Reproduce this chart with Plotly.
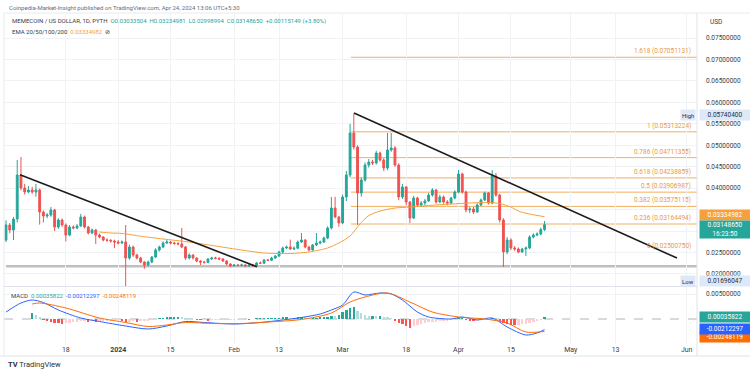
import plotly.graph_objects as go
import pandas as pd

# ---------------- data ----------------
DATES = pd.date_range("2023-12-02", periods=145, freq="D")

OPEN = [0.02791, 0.03141, 0.03024, 0.03281, 0.04307, 0.04003, 0.03910, 0.03957, 0.03910, 0.03957,
        0.03444, 0.03351, 0.03374, 0.03491, 0.03094, 0.03258, 0.03141, 0.02908, 0.03094, 0.03071,
        0.03118, 0.03328, 0.03094, 0.02955, 0.03024, 0.02908, 0.02861, 0.02791, 0.02785, 0.02768,
        0.02745, 0.02721, 0.02745, 0.02372, 0.02628, 0.02442, 0.02372, 0.02278, 0.02208, 0.02278,
        0.02395, 0.02558, 0.02628, 0.02721, 0.02745, 0.02721, 0.02710, 0.02698, 0.02628, 0.02372,
        0.02442, 0.02372, 0.02302, 0.02278, 0.02270, 0.02348, 0.02372, 0.02365, 0.02348, 0.02302,
        0.02232, 0.02185, 0.02208, 0.02200, 0.02210, 0.02185, 0.02208, 0.02190, 0.02255, 0.02250,
        0.02325, 0.02320, 0.02372, 0.02418, 0.02512, 0.02605, 0.02628, 0.02582, 0.02600, 0.02745,
        0.02791, 0.02628, 0.02558, 0.02675, 0.02721, 0.02745, 0.02838, 0.03071, 0.03537, 0.03328,
        0.03188, 0.03794, 0.04307, 0.05286, 0.04959, 0.03887, 0.04190, 0.04540, 0.04610, 0.04587,
        0.04819, 0.04656, 0.04470, 0.04889, 0.04936, 0.04540, 0.03794, 0.04027, 0.03677, 0.03304,
        0.03770, 0.03607, 0.03654, 0.03700, 0.03840, 0.03957, 0.03677, 0.03794, 0.03677, 0.03654,
        0.03770, 0.03910, 0.04330, 0.03910, 0.03491, 0.03514, 0.03444, 0.03607, 0.03724, 0.03887,
        0.03654, 0.04283, 0.03840, 0.03258, 0.02512, 0.02791, 0.02605, 0.02582, 0.02512, 0.02582,
        0.02605, 0.02861, 0.02908, 0.02931, 0.03033504]

HIGH = [0.03250, 0.03190, 0.03330, 0.04656, 0.04726, 0.04100, 0.04050, 0.04030, 0.04100, 0.03990,
        0.03480, 0.03420, 0.03560, 0.03520, 0.03300, 0.03290, 0.03180, 0.03140, 0.03130, 0.03160,
        0.03400, 0.03360, 0.03120, 0.03060, 0.03050, 0.02940, 0.02880, 0.02830, 0.02810, 0.02800,
        0.02790, 0.02780, 0.03141, 0.02680, 0.02660, 0.02470, 0.02400, 0.02300, 0.02310, 0.02420,
        0.02600, 0.02660, 0.02760, 0.02790, 0.02770, 0.02750, 0.02740, 0.03071, 0.02650, 0.02480,
        0.02460, 0.02390, 0.02320, 0.02300, 0.02370, 0.02400, 0.02400, 0.02390, 0.02370, 0.02320,
        0.02250, 0.02230, 0.02230, 0.02240, 0.02230, 0.02230, 0.02230, 0.02280, 0.02290, 0.02350,
        0.02350, 0.02400, 0.02440, 0.02540, 0.02640, 0.02660, 0.02800, 0.02640, 0.02780, 0.02955,
        0.02810, 0.02650, 0.02700, 0.02955, 0.02780, 0.02870, 0.03110, 0.03794, 0.03800, 0.03350,
        0.03850, 0.04400, 0.05500, 0.05740, 0.05000, 0.04250, 0.04600, 0.04680, 0.04660, 0.04870,
        0.04850, 0.04700, 0.05286, 0.05286, 0.04980, 0.04580, 0.04100, 0.04050, 0.03700, 0.03820,
        0.03800, 0.03700, 0.03750, 0.03890, 0.04000, 0.03980, 0.03850, 0.03830, 0.03720, 0.03800,
        0.03950, 0.04423, 0.04360, 0.03940, 0.03560, 0.03560, 0.03650, 0.03760, 0.03920, 0.03910,
        0.04423, 0.04350, 0.03870, 0.03300, 0.02861, 0.02830, 0.02650, 0.02620, 0.02610, 0.02640,
        0.02900, 0.02950, 0.02970, 0.03080, 0.03234981]

LOW = [0.02745, 0.02950, 0.02791, 0.03200, 0.03950, 0.03850, 0.03880, 0.03870, 0.03800, 0.03150,
       0.03200, 0.03300, 0.03330, 0.03000, 0.03050, 0.03100, 0.02760, 0.02880, 0.03040, 0.03040,
       0.03100, 0.03060, 0.02920, 0.02930, 0.02700, 0.02830, 0.02760, 0.02750, 0.02730, 0.02600,
       0.02690, 0.02700, 0.01696, 0.02330, 0.02400, 0.02340, 0.02250, 0.02120, 0.02180, 0.02250,
       0.02370, 0.02520, 0.02600, 0.02700, 0.02690, 0.02680, 0.02670, 0.02600, 0.02330, 0.02340,
       0.02340, 0.02270, 0.02210, 0.02240, 0.02250, 0.02330, 0.02340, 0.02320, 0.02280, 0.02200,
       0.02160, 0.02170, 0.02180, 0.02180, 0.02165, 0.02170, 0.02170, 0.02170, 0.02230, 0.02240,
       0.02300, 0.02300, 0.02350, 0.02400, 0.02490, 0.02580, 0.02560, 0.02560, 0.02580, 0.02720,
       0.02600, 0.02530, 0.02540, 0.02650, 0.02690, 0.02720, 0.02810, 0.03040, 0.03300, 0.03100,
       0.03160, 0.03700, 0.04250, 0.04900, 0.03141, 0.03800, 0.04150, 0.04480, 0.04540, 0.04550,
       0.04620, 0.04400, 0.04420, 0.04850, 0.04500, 0.03720, 0.03750, 0.03600, 0.03190, 0.03280,
       0.03560, 0.03560, 0.03600, 0.03680, 0.03800, 0.03640, 0.03650, 0.03640, 0.03600, 0.03620,
       0.03740, 0.03880, 0.03870, 0.03440, 0.03420, 0.03400, 0.03420, 0.03580, 0.03700, 0.03620,
       0.03620, 0.03800, 0.03200, 0.02162, 0.02460, 0.02560, 0.02540, 0.02480, 0.02490, 0.02420,
       0.02580, 0.02830, 0.02880, 0.02900, 0.02998994]

CLOSE = [0.03141, 0.03024, 0.03281, 0.04307, 0.04003, 0.03910, 0.03957, 0.03910, 0.03957, 0.03444,
         0.03351, 0.03374, 0.03491, 0.03094, 0.03258, 0.03141, 0.02908, 0.03094, 0.03071, 0.03118,
         0.03328, 0.03094, 0.02955, 0.03024, 0.02908, 0.02861, 0.02791, 0.02785, 0.02768, 0.02745,
         0.02721, 0.02745, 0.02372, 0.02628, 0.02442, 0.02372, 0.02278, 0.02208, 0.02278, 0.02395,
         0.02558, 0.02628, 0.02721, 0.02745, 0.02721, 0.02710, 0.02698, 0.02628, 0.02372, 0.02442,
         0.02372, 0.02302, 0.02278, 0.02270, 0.02348, 0.02372, 0.02365, 0.02348, 0.02302, 0.02232,
         0.02185, 0.02208, 0.02200, 0.02210, 0.02185, 0.02208, 0.02190, 0.02255, 0.02250, 0.02325,
         0.02320, 0.02372, 0.02418, 0.02512, 0.02605, 0.02628, 0.02582, 0.02600, 0.02745, 0.02791,
         0.02628, 0.02558, 0.02675, 0.02721, 0.02745, 0.02838, 0.03071, 0.03537, 0.03328, 0.03188,
         0.03794, 0.04307, 0.05286, 0.04959, 0.03887, 0.04190, 0.04540, 0.04610, 0.04587, 0.04819,
         0.04656, 0.04470, 0.04889, 0.04936, 0.04540, 0.03794, 0.04027, 0.03677, 0.03304, 0.03770,
         0.03607, 0.03654, 0.03700, 0.03840, 0.03957, 0.03677, 0.03794, 0.03677, 0.03654, 0.03770,
         0.03910, 0.04330, 0.03910, 0.03491, 0.03514, 0.03444, 0.03607, 0.03724, 0.03887, 0.03654,
         0.04283, 0.03840, 0.03258, 0.02512, 0.02791, 0.02605, 0.02582, 0.02512, 0.02582, 0.02605,
         0.02861, 0.02908, 0.02931, 0.03034, 0.03148650]

EMA_DATES = ["2023-12-27", "2023-12-30", "2024-01-02", "2024-01-07", "2024-01-13", "2024-01-20",
             "2024-01-27", "2024-02-03", "2024-02-09", "2024-02-16", "2024-02-21", "2024-02-26",
             "2024-02-29", "2024-03-03", "2024-03-06", "2024-03-08", "2024-03-11", "2024-03-15",
             "2024-03-19", "2024-03-24", "2024-03-30", "2024-04-04", "2024-04-09", "2024-04-12",
             "2024-04-15", "2024-04-17", "2024-04-20", "2024-04-24"]
EMA_VALS = [0.02978, 0.02955, 0.02945, 0.02880, 0.02815, 0.02745, 0.02651, 0.02558, 0.02488,
            0.02477, 0.02512, 0.02605, 0.02721, 0.02885, 0.03200, 0.03360, 0.03467, 0.03537,
            0.03560, 0.03596, 0.03630, 0.03654, 0.03665, 0.03642, 0.03560, 0.03467, 0.03397,
            0.03334982]

HIST = [None, None, None, None, None, None, None,
        0.0012, 0.0009, 0.0005, -0.0002, -0.0004, -0.0005, -0.0007, -0.0008, -0.0009, -0.0008,
        -0.0007, -0.0006, -0.0005, -0.0004, -0.0004, -0.0005, -0.0004, -0.0005, -0.0004, -0.0003,
        -0.0003, -0.0003, -0.0002, -0.0002, -0.0003, -0.0006, -0.0005, -0.0004, -0.0005, -0.0004,
        -0.0004, -0.0003, -0.0002, -0.0001, 0.0001, 0.0002, 0.0003, 0.0004, 0.0004, 0.0004,
        0.0003, 0.0002, 0.0001, 0.0000, -0.0001, -0.0002, -0.0002, -0.0003, -0.0002, -0.0002,
        -0.0002, -0.0001, -0.0001, -0.0001, -0.0001, -0.0001, -0.0001, 0.0000, -0.0001, 0.0000,
        0.0001, 0.0001, 0.0001, 0.0002, 0.0002, 0.0002, 0.0002, 0.0003, 0.0003, 0.0002,
        0.0002, 0.0003, 0.0004, 0.0003, 0.0002, 0.0002, 0.0002, 0.0003, 0.0004, 0.0005,
        0.0007, 0.0006, 0.0008, 0.0014, 0.0018, 0.0022, 0.0025, 0.0016, 0.0012, 0.0008,
        0.0006, 0.0007, 0.0006, 0.0006, 0.0004, 0.0003, 0.0002, -0.0003, -0.0007, -0.0010,
        -0.0014, -0.0018, -0.0013, -0.0012, -0.0010, -0.0008, -0.0006, -0.0005, -0.0005, -0.0004,
        -0.0003, -0.0003, -0.0002, -0.0001, 0.0002, 0.0002, -0.0002, -0.0003, -0.0004, -0.0003,
        -0.0002, -0.0001, -0.0001, 0.0002, 0.0001, -0.0003, -0.0007, -0.0009, -0.0011, -0.0012,
        -0.0012, -0.0010, -0.0009, -0.0007, -0.0005, -0.0003, -0.0001, 0.00035822]

MACD_DATES = ["2023-12-02", "2023-12-06", "2023-12-09", "2023-12-12", "2023-12-16", "2023-12-22",
              "2023-12-27", "2024-01-03", "2024-01-09", "2024-01-14", "2024-01-19", "2024-01-24",
              "2024-02-01", "2024-02-08", "2024-02-14", "2024-02-19", "2024-02-24", "2024-02-27",
              "2024-03-01", "2024-03-04", "2024-03-07", "2024-03-11", "2024-03-14", "2024-03-17",
              "2024-03-21", "2024-03-24", "2024-03-30", "2024-04-02", "2024-04-06", "2024-04-10",
              "2024-04-14", "2024-04-19", "2024-04-22", "2024-04-24"]
MACD_VALS = [0.0014, 0.0032, 0.0038, 0.0033, 0.0018, 0.0002, -0.0005, -0.0014, -0.0020, -0.0014,
             -0.0005, -0.0007, -0.0010, -0.0007, -0.0002, 0.0003, 0.0010, 0.0018, 0.0028, 0.0054,
             0.0048, 0.0052, 0.0050, 0.0038, 0.0014, 0.0004, 0.0000, 0.0004, -0.0002, 0.0002,
             -0.0016, -0.0032, -0.0028, -0.00212297]

SIGNAL_DATES = ["2023-12-09", "2023-12-11", "2023-12-18", "2023-12-27", "2024-01-03", "2024-01-09",
                "2024-01-14", "2024-01-19", "2024-01-26", "2024-02-03", "2024-02-10", "2024-02-19",
                "2024-02-27", "2024-03-03", "2024-03-07", "2024-03-13", "2024-03-19", "2024-03-25",
                "2024-04-01", "2024-04-08", "2024-04-14", "2024-04-19", "2024-04-24"]
SIGNAL_VALS = [0.0030, 0.0032, 0.0022, 0.0002, -0.0007, -0.0015, -0.0012, -0.0007, -0.0009,
               -0.0009, -0.0006, -0.0001, 0.0012, 0.0034, 0.0044, 0.0052, 0.0034, 0.0014,
               0.0004, 0.0000, -0.0008, -0.0026, -0.00248119]

FIB_RATIOS = ["1.618", "1", "0.786", "0.618", "0.5", "0.382", "0.236", "0"]
FIB_LEVELS = [0.07051131, 0.05313224, 0.04711355, 0.04238859, 0.03906987, 0.03575115,
              0.03164494, 0.02500750]
FIB_START = "2024-03-03 05:00"

TREND1 = [("2023-12-05 18:00", 0.0431), ("2024-02-07 02:00", 0.0217)]
TREND2 = [("2024-03-04 01:00", 0.0575), ("2024-05-29 10:00", 0.0237)]
SUPPORT = 0.0218
SUPPORT_START = "2023-12-02"

PRICE_TICKS = [0.020, 0.025, 0.030, 0.035, 0.040, 0.045, 0.050, 0.055, 0.060, 0.065, 0.070, 0.075]
# labels of 0.030 / 0.035 are hidden behind the last-price tags in the original
PRICE_TICK_TEXT = ["0.02000000", "0.02500000", "", "", "0.04000000", "0.04500000", "0.05000000",
                   "0.05500000", "0.06000000", "0.06500000", "0.07000000", "0.07500000"]
TICK_DATES = ["2023-12-18", "2024-01-01", "2024-01-15", "2024-02-01", "2024-02-13", "2024-03-01",
              "2024-03-18", "2024-04-01", "2024-04-15", "2024-05-01", "2024-05-13", "2024-06-01"]
TICK_TEXT = ["18", "<b>2024</b>", "15", "Feb", "13", "Mar", "18", "Apr", "15", "May", "13", "Jun"]

HIGH_VAL = 0.05740400
LOW_VAL = 0.01696047
EMA_LAST = 0.03334982
CLOSE_LAST = 0.03148650
HIST_LAST, MACD_LAST, SIGNAL_LAST = 0.00035822, -0.00212297, -0.00248119

X_RANGE = ["2023-12-01 11:10", "2024-06-03 18:14"]

# ---------------- style ----------------
UP, DN = "#26a69a", "#ef5350"
EMA_C = "#f5a03a"
FIB_C = "rgba(240,160,70,0.85)"
FIB_T = "#e89a45"
GRID = "#f0f2f6"
FONT = "Roboto"
W, H = 750, 373
ML, MR, MT, MB = 4, 53, 14, 29
PW, PH = W - ML - MR, H - MT - MB


def px(x):
    return (x - ML) / PW


def py(y):
    return (H - MB - y) / PH


fig = go.Figure()

fig.add_trace(go.Candlestick(
    x=DATES, open=OPEN, high=HIGH, low=LOW, close=CLOSE,
    increasing=dict(line=dict(color=UP, width=1), fillcolor=UP),
    decreasing=dict(line=dict(color=DN, width=1), fillcolor=DN),
    whiskerwidth=0, xaxis="x", yaxis="y", showlegend=False, hoverinfo="skip"))

fig.add_trace(go.Scatter(x=EMA_DATES, y=EMA_VALS, mode="lines",
                         line=dict(color=EMA_C, width=1, shape="spline", smoothing=0.7),
                         xaxis="x", yaxis="y", showlegend=False, hoverinfo="skip"))

hist_colors = []
prev = None
for h in HIST:
    if h is None:
        hist_colors.append("rgba(0,0,0,0)")
    elif h >= 0:
        hist_colors.append("#26a69a" if (prev is None or h >= prev) else "#b2dfdb")
    else:
        hist_colors.append("#ff5252" if (prev is None or h < prev) else "#ffcdd2")
    if h is not None:
        prev = h

fig.add_trace(go.Bar(x=DATES, y=HIST, marker=dict(color=hist_colors, line=dict(width=0)),
                     width=0.62 * 86400000, xaxis="x2", yaxis="y2", showlegend=False,
                     hoverinfo="skip"))
fig.add_trace(go.Scatter(x=MACD_DATES, y=MACD_VALS, mode="lines",
                         line=dict(color="#2962ff", width=1, shape="spline", smoothing=0.8),
                         xaxis="x2", yaxis="y2", showlegend=False, hoverinfo="skip"))
fig.add_trace(go.Scatter(x=SIGNAL_DATES, y=SIGNAL_VALS, mode="lines",
                         line=dict(color="#ff6d00", width=1, shape="spline", smoothing=0.8),
                         xaxis="x2", yaxis="y2", showlegend=False, hoverinfo="skip"))

shapes = []
for lv in FIB_LEVELS:
    shapes.append(dict(type="line", xref="x", yref="y", x0=FIB_START, x1=X_RANGE[1],
                       y0=lv, y1=lv, line=dict(color=FIB_C, width=1), layer="below"))
shapes.append(dict(type="line", xref="x", yref="y", x0=SUPPORT_START, x1=X_RANGE[1],
                   y0=SUPPORT, y1=SUPPORT, line=dict(color="rgba(175,175,175,0.8)", width=2.5),
                   layer="below"))
for tl in (TREND1, TREND2):
    shapes.append(dict(type="line", xref="x", yref="y", x0=tl[0][0], y0=tl[0][1],
                       x1=tl[1][0], y1=tl[1][1], line=dict(color="#1c1c1c", width=1.6)))
shapes.append(dict(type="line", xref="x2", yref="y2", x0=X_RANGE[0], x1=X_RANGE[1], y0=0, y1=0,
                   line=dict(color="#b0b4bc", width=1, dash="dash"), layer="below"))
shapes.append(dict(type="line", xref="paper", yref="paper", x0=0, x1=1, y0=py(286.5), y1=py(286.5),
                   line=dict(color="#e0e3eb", width=1)))
shapes.append(dict(type="line", xref="paper", yref="paper", x0=1, x1=1, y0=py(356), y1=py(13),
                   line=dict(color="#e0e3eb", width=1)))
shapes.append(dict(type="line", xref="paper", yref="paper", x0=px(0), x1=px(W), y0=py(356),
                   y1=py(356), line=dict(color="#e0e3eb", width=1)))
shapes.append(dict(type="line", xref="paper", yref="paper", x0=px(4), x1=px(W), y0=py(13),
                   y1=py(13), line=dict(color="#e8eaef", width=1)))
shapes.append(dict(type="line", xref="paper", yref="paper", x0=0, x1=0, y0=py(356),
                   y1=py(13), line=dict(color="#e8eaef", width=1)))

ann = []
for r, lv in zip(FIB_RATIOS, FIB_LEVELS):
    ann.append(dict(xref="paper", yref="y", x=1, y=lv, xanchor="right", yanchor="bottom",
                    xshift=-4, yshift=0, showarrow=False,
                    text=f"{r} ({lv:.8f})", font=dict(family=FONT, size=6.5, color=FIB_T)))

ann.append(dict(xref="paper", yref="paper", x=px(7), y=py(7.5), xanchor="left", yanchor="middle",
                showarrow=False,
                text="Coinpedia-Market-Insight published on TradingView.com, Apr 24, 2024 13:06 UTC+5:30",
                font=dict(family=FONT, size=6, color="#6a6d78")))
t = "#26a69a"
ann.append(dict(xref="paper", yref="paper", x=px(10), y=py(21), xanchor="left", yanchor="middle",
                showarrow=False,
                text=("MEMECOIN / US DOLLAR, 1D, PYTH  "
                      f"<span style='color:{t}'>O{OPEN[-1]:.8f}  H{HIGH[-1]:.8f}  L{LOW[-1]:.8f}  "
                      f"C{CLOSE[-1]:.8f}  +0.00115149 (+3.80%)</span>"),
                font=dict(family=FONT, size=6, color="#3a3d46")))
ann.append(dict(xref="paper", yref="paper", x=px(10), y=py(31), xanchor="left", yanchor="middle",
                showarrow=False,
                text=f"EMA 20/50/100/200  <span style='color:{EMA_C}'>{EMA_LAST:.8f}</span>  ⊘",
                font=dict(family=FONT, size=6, color="#3a3d46")))
ann.append(dict(xref="paper", yref="paper", x=px(9), y=py(295), xanchor="left", yanchor="middle",
                showarrow=False,
                text=(f"MACD  <span style='color:#26a69a'>{HIST_LAST:.8f}</span>  "
                      f"<span style='color:#2962ff'>{MACD_LAST:.8f}</span>  "
                      f"<span style='color:#ff6d00'>{SIGNAL_LAST:.8f}</span>"),
                font=dict(family=FONT, size=6, color="#3a3d46")))
ann.append(dict(xref="paper", yref="paper", x=px(708), y=py(22), xanchor="left", yanchor="middle",
                showarrow=False, text="USD", font=dict(family=FONT, size=6.5, color="#3a3d46")))
ann.append(dict(xref="paper", yref="paper", x=px(6), y=py(364), xanchor="left", yanchor="middle",
                showarrow=False, text="<b>TV</b> TradingView",
                font=dict(family=FONT, size=7.5, color="#2a2e39")))


def axis_tag(ypix, text, bg, fg, h=8):
    ann.append(dict(xref="paper", yref="paper", x=px(699), y=py(ypix), xanchor="left",
                    yanchor="middle", showarrow=False, text=text, bgcolor=bg, width=48, height=h,
                    align="center", borderpad=1, font=dict(family=FONT, size=6.5, color=fg)))


def left_tag(ypix, text):
    ann.append(dict(xref="paper", yref="paper", x=1, y=py(ypix), xanchor="right", xshift=-1,
                    yanchor="middle", showarrow=False, text=text, bgcolor="#dde8f9", height=8,
                    borderpad=1, font=dict(family=FONT, size=6, color="#2a2e39")))


axis_tag(114.5, f"{HIGH_VAL:.8f}", "#dde8f9", "#2a2e39")
left_tag(114.5, "High")
axis_tag(281, f"{LOW_VAL:.8f}", "#dde8f9", "#2a2e39")
left_tag(281, "Low")
axis_tag(215, f"{EMA_LAST:.8f}", EMA_C, "white")
axis_tag(229.5, f"{CLOSE_LAST:.8f}<br>16:23:50", "#26a69a", "white", h=15)
axis_tag(336.5, f"{SIGNAL_LAST:.8f}", "#ff6d00", "white")
axis_tag(328.5, f"{MACD_LAST:.8f}", "#2962ff", "white")
axis_tag(316.5, f"{HIST_LAST:.8f}", "#26a69a", "white")

fig.update_layout(
    width=W, height=H, margin=dict(l=ML, r=MR, t=MT, b=MB),
    paper_bgcolor="white", plot_bgcolor="white", showlegend=False, bargap=0,
    font=dict(family=FONT, size=7, color="#3a3d46"),
    xaxis=dict(domain=[0, 1], anchor="y", type="date", range=X_RANGE, showticklabels=False,
               tickvals=TICK_DATES, showgrid=True, gridcolor=GRID, zeroline=False,
               rangeslider=dict(visible=False), showline=False, ticks=""),
    xaxis2=dict(domain=[0, 1], anchor="y2", type="date", range=X_RANGE, matches="x",
                tickvals=TICK_DATES, ticktext=TICK_TEXT, showgrid=True, gridcolor=GRID,
                zeroline=False, ticks="", showline=False,
                tickfont=dict(family=FONT, size=7, color="#3a3d46")),
    yaxis=dict(domain=[py(286.5), 1], anchor="x", side="right",
               range=[0.08386 - 286.5 * 0.0002331, 0.08386 - MT * 0.0002331],
               tickvals=PRICE_TICKS, ticktext=PRICE_TICK_TEXT, showgrid=True, gridcolor=GRID,
               zeroline=False, ticks="", ticklabelstandoff=8,
               tickfont=dict(family=FONT, size=6.5, color="#3a3d46")),
    yaxis2=dict(domain=[0, py(287)], anchor="x2", side="right", range=[-0.005, 0.0064],
                tickvals=[0.005], tickformat=".8f", showgrid=True, gridcolor=GRID,
                zeroline=False, ticks="", ticklabelstandoff=8,
                tickfont=dict(family=FONT, size=6.5, color="#3a3d46")),
    shapes=shapes, annotations=ann,
)

fig.write_html("out.html", config={"displayModeBar": False},
               post_script="document.body.style.margin='0';document.body.style.overflow='hidden';")
